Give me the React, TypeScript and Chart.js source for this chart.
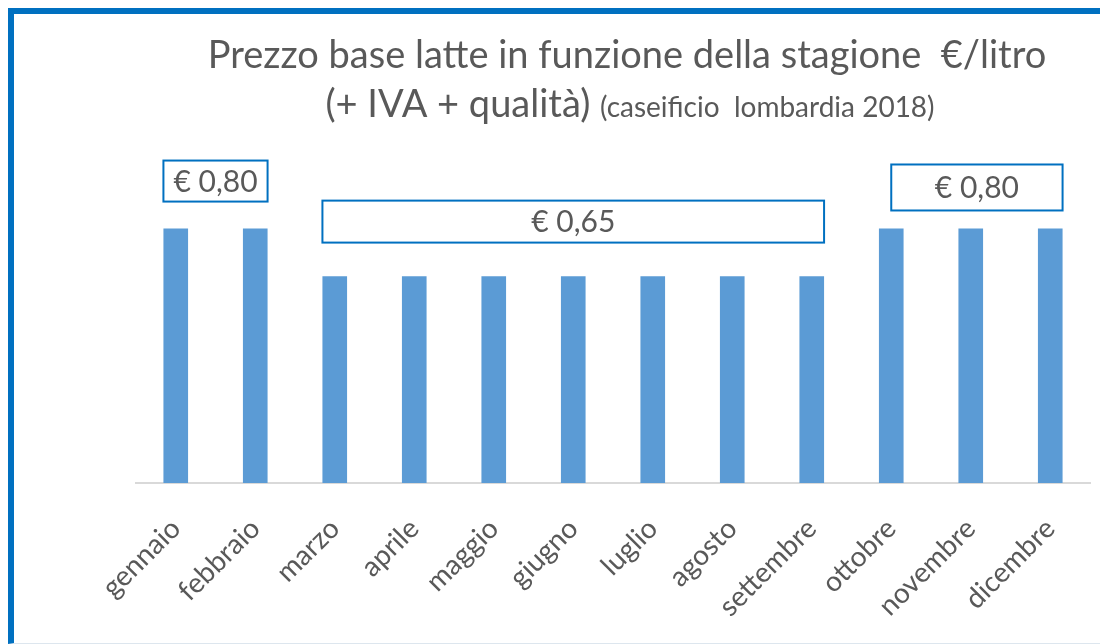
import React, { useEffect, useRef } from "react";
import { Chart, registerables } from "chart.js";

Chart.register(...registerables);

const months = [
  "gennaio", "febbraio", "marzo", "aprile", "maggio", "giugno",
  "luglio", "agosto", "settembre", "ottobre", "novembre", "dicembre",
];
const prices = [0.8, 0.8, 0.65, 0.65, 0.65, 0.65, 0.65, 0.65, 0.65, 0.8, 0.8, 0.8];

const titleLine1 = "Prezzo base latte in funzione della stagione  €/litro";
const titleLine2Big = "(+ IVA + qualità) ";
const titleLine2Small = "(caseificio  lombardia 2018)";

const priceBoxLabels = ["€ 0,80", "€ 0,65", "€ 0,80"];

const TEXT = "#595959";
const BAR = "#5B9BD5";
const BOX = "#0070C0";
const FONT = "Lato, 'Open Sans', sans-serif";

// callout boxes: from bar (startIdx, startEdge) to bar (endIdx, right edge); vertical range in value units
const boxes = [
  { label: 0, from: 0, fromEdge: "left", to: 1, top: 1.014, bottom: 0.885 },
  { label: 1, from: 2, fromEdge: "left", to: 8, top: 0.888, bottom: 0.756 },
  { label: 2, from: 9, fromEdge: "center", to: 11, top: 1.0016, bottom: 0.857 },
];

const overlayPlugin = {
  id: "overlay",
  afterDraw(chart: any) {
    const ctx = chart.ctx;
    const meta = chart.getDatasetMeta(0);
    const y = chart.scales.y;
    ctx.save();
    // title
    ctx.fillStyle = TEXT;
    ctx.textBaseline = "alphabetic";
    ctx.textAlign = "center";
    ctx.font = `38px ${FONT}`;
    ctx.fillText(titleLine1, 613, 54);
    ctx.font = `38px ${FONT}`;
    const w1 = ctx.measureText(titleLine2Big).width;
    ctx.font = `28px ${FONT}`;
    const w2 = ctx.measureText(titleLine2Small).width;
    const start = 616 - (w1 + w2) / 2;
    ctx.textAlign = "left";
    ctx.font = `38px ${FONT}`;
    ctx.fillText(titleLine2Big, start, 103);
    ctx.font = `28px ${FONT}`;
    ctx.fillText(titleLine2Small, start + w1, 103);

    // boxes
    boxes.forEach((b) => {
      const a = meta.data[b.from];
      const c = meta.data[b.to];
      const left = b.fromEdge === "left" ? a.x - a.width / 2 : a.x;
      const right = c.x + c.width / 2;
      const top = y.getPixelForValue(b.top);
      const bottom = y.getPixelForValue(b.bottom);
      ctx.fillStyle = "#ffffff";
      ctx.fillRect(left, top, right - left, bottom - top);
      ctx.strokeStyle = BOX;
      ctx.lineWidth = 2;
      ctx.strokeRect(left, top, right - left, bottom - top);
      ctx.fillStyle = TEXT;
      ctx.font = `30px ${FONT}`;
      ctx.textAlign = "center";
      ctx.textBaseline = "middle";
      ctx.fillText(priceBoxLabels[b.label], (left + right) / 2, (top + bottom) / 2 + 1);
    });
    ctx.restore();
  },
};

export default function App() {
  const ref = useRef<HTMLCanvasElement>(null);
  useEffect(() => {
    if (!ref.current) return;
    const chart = new Chart(ref.current, {
      type: "bar",
      data: {
        labels: months,
        datasets: [
          {
            data: prices,
            backgroundColor: BAR,
            barPercentage: 1,
            categoryPercentage: 0.31,
          },
        ],
      },
      options: {
        animation: false,
        responsive: false,
        maintainAspectRatio: false,
        layout: { padding: { left: 122, right: 18, top: 151, bottom: 0 } },
        plugins: {
          legend: { display: false },
          tooltip: { enabled: false },
          title: { display: false },
        },
        scales: {
          x: {
            grid: { display: false, drawTicks: false },
            border: { display: true, color: "#D9D9D9", width: 2 },
            ticks: {
              color: TEXT,
              font: { family: FONT, size: 28 },
              minRotation: 45,
              maxRotation: 45,
              padding: 29,
              autoSkip: false,
            },
            afterFit: (scale: any) => {
              scale.height = 160;
            },
          },
          y: { display: false, min: 0, max: 1.0 },
        },
      },
      plugins: [overlayPlugin],
    });
    return () => chart.destroy();
  }, []);

  return (
    <div
      style={{
        position: "relative",
        width: 1100,
        height: 636,
        boxSizing: "border-box",
        borderTop: "6px solid #0070C0",
        borderLeft: "6px solid #0070C0",
        borderBottom: "1px solid #DDE6EE",
        background: "#fff",
      }}
    >
      <canvas ref={ref} width={1094} height={629} style={{ display: "block" }} />
    </div>
  );
}
